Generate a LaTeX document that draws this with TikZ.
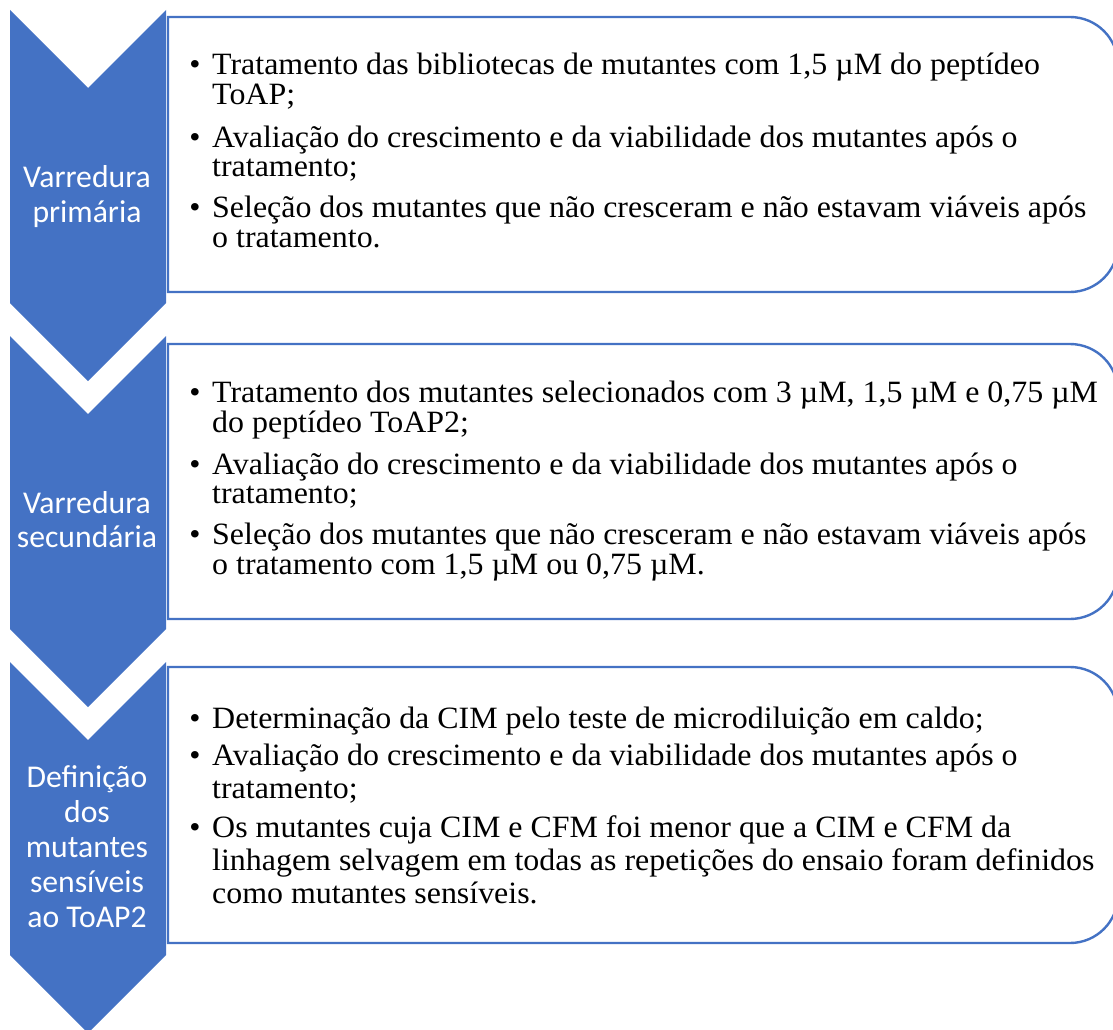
\documentclass[tikz,border=0pt]{standalone}
\usepackage{fontspec}
\setmainfont{Liberation Serif}
\newfontfamily\serfont[FakeStretch=1.03]{Liberation Serif}
\newfontfamily\lblfont{Carlito}
\definecolor{accblue}{HTML}{4472C4}
\begin{document}
\begin{tikzpicture}[x=1pt,y=1pt,
  chev/.style={fill=accblue},
  boxline/.style={draw=accblue,line width=2.4pt,fill=white},
  lbl/.style={anchor=base,inner sep=0pt,text=white,font=\lblfont\fontsize{31.7}{35}\selectfont},
  txt/.style={anchor=base west,inner sep=0pt,font=\serfont\fontsize{31}{30}\selectfont},
  bul/.style={anchor=base,inner sep=0pt,font=\serfont\fontsize{31}{30}\selectfont}]
\useasboundingbox (0,0) rectangle (1113,-1030);
% chevrons
\foreach \o in {0,326,652}{
  \fill[chev] (10,-10-\o) -- (88,-88-\o) -- (166,-10-\o) -- (166,-303-\o) -- (88,-381-\o) -- (10,-303-\o) -- cycle;
}
% boxes
\foreach \t/\b in {17/292,344/619,667/943}{
  \draw[boxline] (168,-\b) -- (168,-\t) -- (1070,-\t) arc[start angle=90,end angle=0,radius=48]
     -- (1118,-\b+48) arc[start angle=0,end angle=-90,radius=48] -- cycle;
}
% labels
\node[lbl] (l1a) at (87,-187) {Varredura};
\node[lbl] (l1b) at (87,-222) {primária};
\node[lbl] (l2a) at (87,-513) {Varredura};
\node[lbl] (l2b) at (87,-547) {secundária};
\node[lbl] (l3a) at (87,-787) {Definição};
\node[lbl] (l3b) at (87,-822) {dos};
\node[lbl] (l3c) at (87,-857) {mutantes};
\node[lbl] (l3d) at (87,-892) {sensíveis};
\node[lbl] (l3e) at (87,-927) {ao ToAP2};
% box 1
\node[bul] (b1u1) at (195,-75) {•};
\node[txt] (b1a) at (212,-75) {Tratamento das bibliotecas de mutantes com 1,5 µM do peptídeo};
\node[txt] (b1b) at (212,-105) {ToAP;};
\node[bul] (b1u2) at (195,-147) {•};
\node[txt] (b1c) at (212,-147) {Avaliação do crescimento e da viabilidade dos mutantes após o};
\node[txt] (b1d) at (212,-176) {tratamento;};
\node[bul] (b1u3) at (195,-217) {•};
\node[txt] (b1e) at (212,-217) {Seleção dos mutantes que não cresceram e não estavam viáveis após};
\node[txt] (b1f) at (212,-247) {o tratamento.};
% box 2
\node[bul] (b2u1) at (195,-402) {•};
\node[txt] (b2a) at (212,-402) {Tratamento dos mutantes selecionados com 3 µM, 1,5 µM e 0,75 µM};
\node[txt] (b2b) at (212,-432) {do peptídeo ToAP2;};
\node[bul] (b2u2) at (195,-474) {•};
\node[txt] (b2c) at (212,-474) {Avaliação do crescimento e da viabilidade dos mutantes após o};
\node[txt] (b2d) at (212,-503) {tratamento;};
\node[bul] (b2u3) at (195,-544) {•};
\node[txt] (b2e) at (212,-544) {Seleção dos mutantes que não cresceram e não estavam viáveis após};
\node[txt] (b2f) at (212,-574) {o tratamento com 1,5 µM ou 0,75 µM.};
% box 3
\node[bul] (b3u1) at (195,-728) {•};
\node[txt] (b3a) at (212,-728) {Determinação da CIM pelo teste de microdiluição em caldo;};
\node[bul] (b3u2) at (195,-765) {•};
\node[txt] (b3b) at (212,-765) {Avaliação do crescimento e da viabilidade dos mutantes após o};
\node[txt] (b3c) at (212,-798) {tratamento;};
\node[bul] (b3u3) at (195,-837) {•};
\node[txt] (b3d) at (212,-837) {Os mutantes cuja CIM e CFM foi menor que a CIM e CFM da};
\node[txt] (b3e) at (212,-870) {linhagem selvagem em todas as repetições do ensaio foram definidos};
\node[txt] (b3f) at (212,-903) {como mutantes sensíveis.};
\end{tikzpicture}
\end{document}
